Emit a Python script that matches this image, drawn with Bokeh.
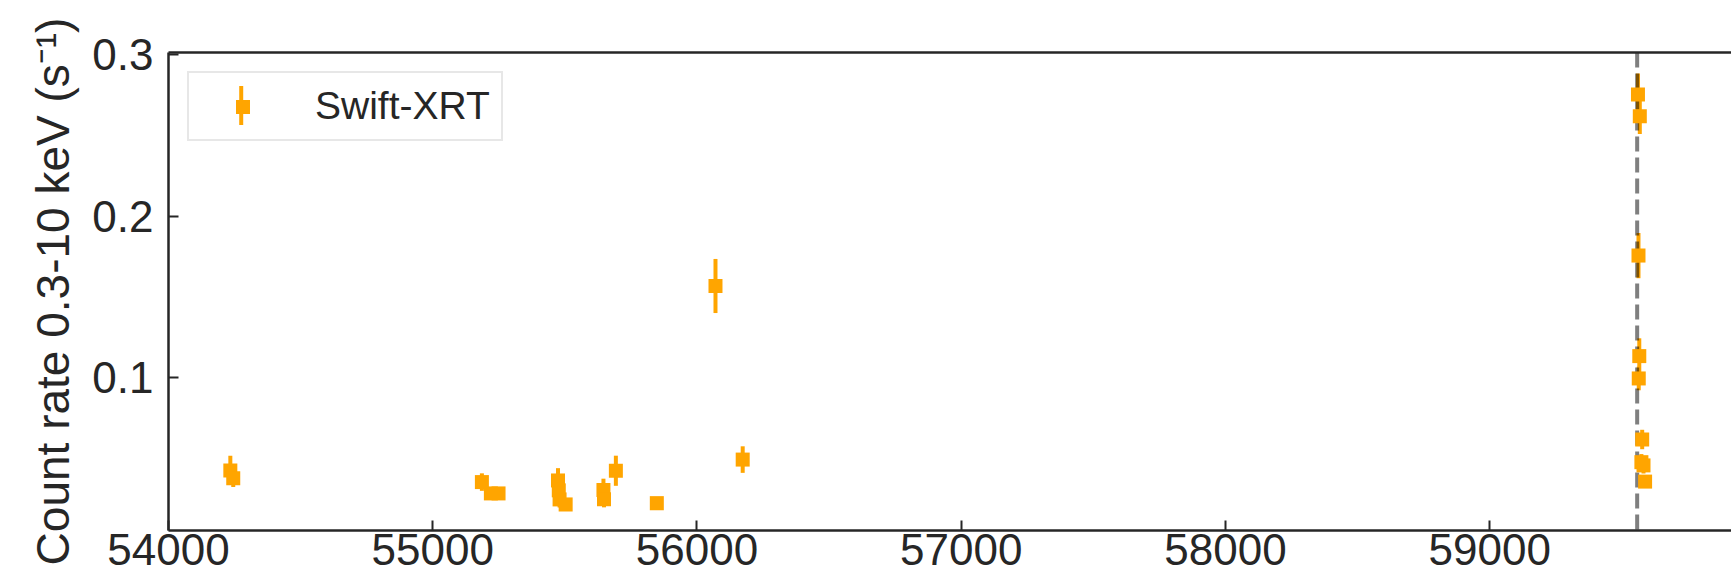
from bokeh.plotting import figure
from bokeh.models import (Range1d, LinearAxis, SingleIntervalTicker, FixedTicker, Span,
                          Legend, LegendItem, BoxAnnotation, ColumnDataSource)
from bokeh.embed import file_html
from bokeh.resources import INLINE

# ---- data ----
mjd = [54234, 54245, 55186, 55220, 55249, 55474, 55477, 55480, 55503,
       55646, 55648, 55693, 55848, 56070, 56173,
       59561, 59568, 59563, 59566, 59564, 59577, 59574, 59582, 59588]
rate = [0.0429, 0.0380, 0.0357, 0.0287, 0.0287, 0.0367, 0.0306, 0.0250, 0.0219,
        0.0308, 0.0251, 0.0427, 0.0227, 0.1568, 0.0496,
        0.2750, 0.2617, 0.1756, 0.1135, 0.0997, 0.0620, 0.0480, 0.0460, 0.0360]
rate_err = [0.0090, 0.0054, 0.0054, 0.0020, 0.0020, 0.0076, 0.0050, 0.0050, 0.0020,
            0.0070, 0.0050, 0.0093, 0.0020, 0.0167, 0.0082,
            0.0130, 0.0110, 0.0140, 0.0110, 0.0073, 0.0060, 0.0050, 0.0050, 0.0030]
outburst_mjd = 59558
series_label = "Swift-XRT"
y_label = "Count rate 0.3-10 keV (s\u207b\u00b9)"
x_lim = (54000, 59915)
y_lim = (0.0058, 0.301)

ORANGE = "#FFA500"
DARK = "#262626"
FONT = "Liberation Sans"

src = ColumnDataSource(dict(
    x=mjd, y=rate,
    lo=[r - e for r, e in zip(rate, rate_err)],
    hi=[r + e for r, e in zip(rate, rate_err)],
))

p = figure(width=1731, height=579, output_backend="svg", toolbar_location=None,
           x_range=Range1d(*x_lim), y_range=Range1d(*y_lim),
           min_border_left=168, min_border_right=0, min_border_top=52, min_border_bottom=49)
p.outline_line_color = None
p.grid.visible = False
p.background_fill_color = "white"
p.border_fill_color = "white"

for ax in (p.xaxis[0], p.yaxis[0]):
    ax.axis_line_color = DARK
    ax.axis_line_width = 2.5
    ax.major_tick_line_color = DARK
    ax.major_tick_line_width = 2
    ax.major_tick_in = 10
    ax.major_tick_out = 0
    ax.minor_tick_line_color = None
    ax.major_label_text_font = FONT
    ax.major_label_text_font_size = "44px"
    ax.major_label_text_color = DARK

p.xaxis[0].ticker = SingleIntervalTicker(interval=1000, num_minor_ticks=0)
p.yaxis[0].ticker = SingleIntervalTicker(interval=0.1, num_minor_ticks=0)
p.xaxis[0].major_label_standoff = 3
p.yaxis[0].major_label_standoff = 15
p.yaxis[0].axis_label = y_label
p.yaxis[0].axis_label_text_font = FONT
p.yaxis[0].axis_label_text_font_size = "46px"
p.yaxis[0].axis_label_text_font_style = "normal"
p.yaxis[0].axis_label_text_color = DARK
p.yaxis[0].axis_label_standoff = 10

top = LinearAxis(ticker=FixedTicker(ticks=[]), axis_line_color=DARK, axis_line_width=2.5,
                 major_tick_line_color=None, minor_tick_line_color=None,
                 major_label_text_font_size="0px")
p.add_layout(top, "above")

seg = p.segment(x0="x", y0="lo", x1="x", y1="hi", source=src,
                line_color=ORANGE, line_width=4)
span = Span(location=outburst_mjd, dimension="height", line_color="black", line_alpha=0.5,
            line_width=4, line_dash="15 6", level="glyph")
pts = p.scatter(x="x", y="y", source=src, marker="square", size=14,
                fill_color=ORANGE, line_color=None)
p.renderers = [seg, span, pts]

legend = Legend(items=[LegendItem(label=series_label, renderers=[pts])],
                location="top_left", margin=19, padding=11,
                glyph_width=85, glyph_height=35, label_standoff=30,
                label_text_font=FONT, label_text_font_size="39px", label_text_color=DARK,
                border_line_color="#d0d0d0", border_line_width=2,
                background_fill_alpha=0, spacing=0)
p.add_layout(legend)

# vertical error-bar stroke of the legend handle (about 4 px wide, 39 px tall)
px_per_x = 1562.7 / (x_lim[1] - x_lim[0])
px_per_y = 1617.0
hx, hy = 241.0, 105.0          # handle centre on the canvas
frame_left, frame_top = 168.3, 52.0
bar = BoxAnnotation(left=x_lim[0] + (hx - 2 - frame_left) / px_per_x,
                    right=x_lim[0] + (hx + 2 - frame_left) / px_per_x,
                    top=y_lim[1] - (hy - 19.5 - frame_top) / px_per_y,
                    bottom=y_lim[1] - (hy + 19.5 - frame_top) / px_per_y,
                    fill_color=ORANGE, fill_alpha=1, line_color=None, line_alpha=0)
p.add_layout(bar)

open("out.html", "w").write(file_html(p, INLINE))
